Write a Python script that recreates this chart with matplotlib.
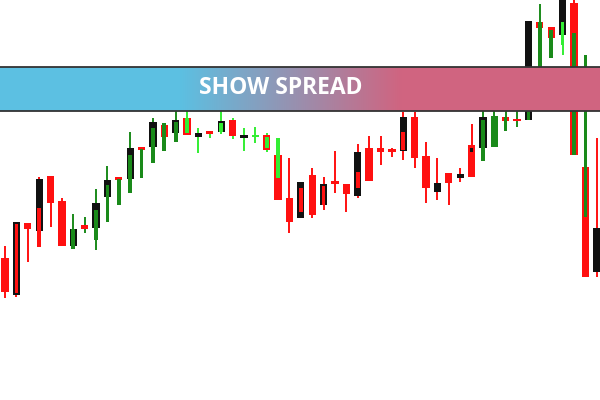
import numpy as np
import matplotlib.pyplot as plt
from matplotlib.colors import to_rgb

# Candle data, price units (higher = up)
wick_hi = [154, 178, 177, 223, 224, 202, 186, 183, 211, 234, 223, 268, 253, 282, 277, 292,
           292, 272, 269, 292, 282, 272, 273, 267, 262, 242, 218, 232, 223, 249, 216, 256,
           264, 264, 252, 288, 288, 258, 242, 227, 232, 276, 295, 292, 292, 292, 379, 396,
           373, 400, 400, 345, 262]
wick_lo = [102, 103, 138, 153, 173, 154, 151, 167, 150, 178, 195, 207, 222, 237, 249, 258,
           265, 247, 262, 266, 261, 249, 257, 248, 200, 167, 182, 182, 190, 207, 188, 202,
           219, 235, 243, 240, 232, 197, 200, 195, 218, 223, 239, 253, 269, 273, 280, 333,
           342, 345, 245, 123, 123]
body_hi = [142, 178, 177, 221, 224, 199, 171, 175, 197, 220, 223, 252, 253, 278, 275, 280,
           282, 267, 269, 279, 280, 265, 265, 265, 245, 202, 218, 225, 216, 219, 216, 248,
           252, 252, 251, 283, 283, 244, 217, 227, 226, 255, 283, 284, 283, 281, 379, 378,
           373, 400, 397, 233, 172]
body_lo = [108, 105, 171, 169, 197, 154, 154, 171, 172, 203, 220, 221, 250, 253, 263, 267,
           265, 263, 266, 268, 264, 262, 263, 250, 200, 178, 182, 185, 195, 216, 206, 204,
           219, 248, 248, 249, 242, 212, 208, 217, 222, 223, 252, 253, 279, 279, 280, 372,
           362, 365, 245, 123, 128]
body_col = ['r', 'k', 'r', 'k', 'r', 'r', 'k', 'r', 'k', 'k', 'r', 'k', 'r', 'k', 'r', 'k',
            'r', 'k', 'r', 'k', 'r', 'k', 'l', 'r', 'r', 'r', 'k', 'r', 'k', 'r', 'r', 'k',
            'r', 'r', 'r', 'k', 'r', 'r', 'k', 'r', 'k', 'r', 'k', 'g', 'r', 'r', 'k', 'r',
            'r', 'k', 'r', 'r', 'k']
inner_hi = [0, 176, 0, 192, 0, 0, 171, 0, 190, 215, 221, 245, 251, 272, 277, 278,
            282, 0, 0, 277, 0, 0, 0, 263, 262, 0, 212, 0, 214, 0, 0, 228,
            0, 0, 0, 268, 0, 0, 0, 0, 0, 252, 280, 0, 283, 0, 300, 378,
            370, 378, 367, 345, 0]
inner_lo = [0, 107, 0, 153, 0, 0, 151, 0, 160, 178, 195, 207, 222, 237, 249, 258,
            267, 0, 0, 268, 0, 0, 0, 252, 222, 0, 188, 0, 195, 0, 0, 212,
            0, 0, 0, 250, 0, 0, 0, 0, 0, 248, 239, 0, 269, 0, 280, 333,
            342, 355, 245, 183, 0]
inner_col = ['', 'r', '', 'r', '', '', 'g', '', 'g', 'g', 'g', 'g', 'g', 'g', 'g', 'g',
             'l', '', '', 'l', '', '', '', 'l', 'l', '', 'r', '', 'r', '', '', 'r',
             '', '', '', 'r', '', '', '', '', '', 'k', 'g', '', 'g', '', 'g', 'g',
             'g', 'l', 'g', 'g', '']
wick_col = ['r', 'r', 'r', 'r', 'r', 'r', 'g', 'g', 'g', 'g', 'g', 'g', 'g', 'g', 'g', 'g',
            'l', 'l', 'l', 'l', 'l', 'l', 'l', 'l', 'r', 'r', 'r', 'r', 'r', 'r', 'r', 'r',
            'r', 'r', 'r', 'r', 'r', 'r', 'r', 'r', 'r', 'r', 'g', 'g', 'g', 'g', 'g', 'g',
            'g', 'l', 'r', 'g', 'r']

banner_text = 'SHOW SPREAD'

colors = {'r': '#ff1010', 'k': '#111111', 'g': '#1a8a1a', 'l': '#33ee33'}

fig = plt.figure(figsize=(6, 4), dpi=100)
ax = fig.add_axes([0, 0, 1, 1])
ax.set_xlim(-0.44, 52.29)
ax.set_ylim(0, 400)
ax.axis('off')

idx = np.arange(len(wick_hi))
ax.vlines(idx, wick_lo, wick_hi, colors=[colors[c] for c in wick_col], lw=1.4, zorder=1)
ax.bar(idx, np.array(body_hi) - np.array(body_lo), bottom=body_lo, width=0.64,
       color=[colors[c] for c in body_col], zorder=2)
for i in idx:
    if inner_col[i]:
        ax.bar(i, inner_hi[i] - inner_lo[i], bottom=inner_lo[i], width=0.32,
               color=colors[inner_col[i]], zorder=3)

# Banner with blue -> pink gradient
left = np.array(to_rgb('#5cc0e2'))
right = np.array(to_rgb('#d06480'))
xs = np.linspace(0, 1, 600)
t = np.clip((xs - 0.3) / 0.37, 0, 1)
grad = left[None, :] * (1 - t[:, None]) + right[None, :] * t[:, None]
x0, x1 = ax.get_xlim()
ax.imshow(grad[None, :, :], extent=(x0, x1, 289, 333), aspect='auto', zorder=5)
ax.hlines([289, 333], x0, x1, colors='#333333', lw=1.3, zorder=6)
ax.text((x0 + x1) * 0.467, 311.5, banner_text, color='white', fontsize=16.5,
        fontweight='bold', family='Open Sans', ha='center', va='center', zorder=7)
ax.set_xlim(x0, x1)
ax.set_ylim(0, 400)

plt.savefig('out.png')
